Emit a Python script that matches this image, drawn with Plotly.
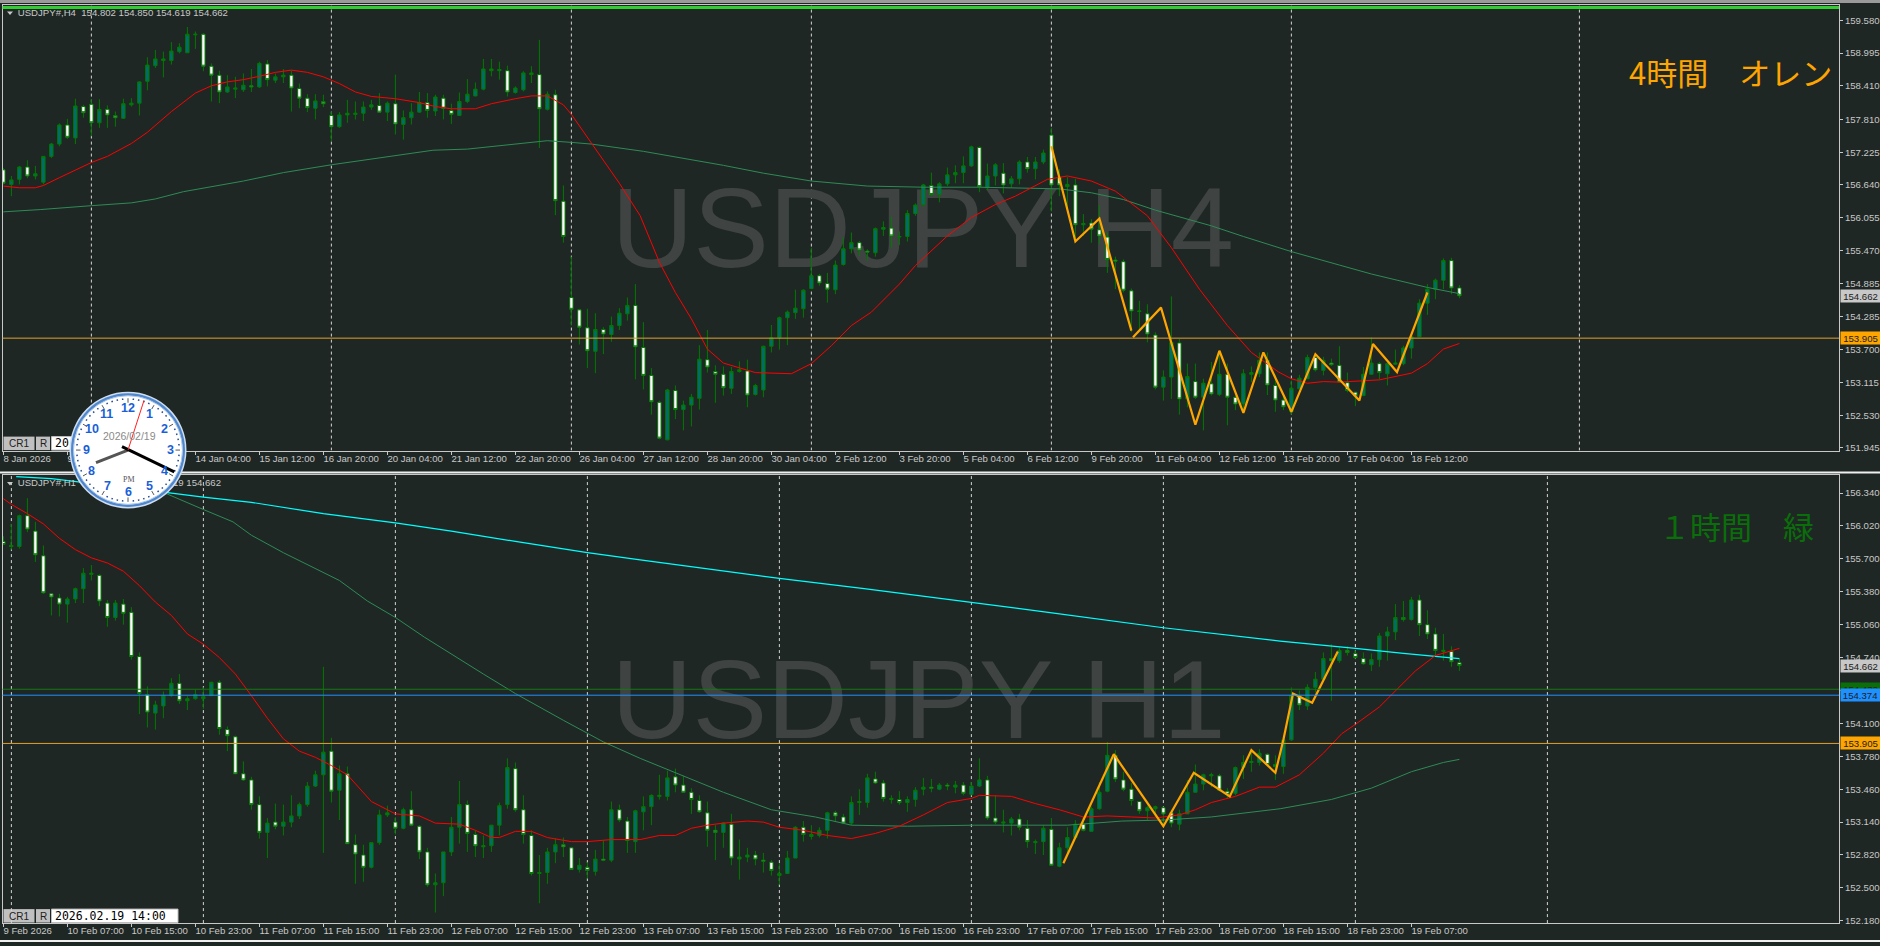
import math
import plotly.graph_objects as go

W, H = 1880, 946
BG = "#1f2724"
TXT = "#c8c8c8"
GRID = "#d4d4d4"
WICK = "#007a00"
TEAL = "#006e6e"
ORANGE = "#ffa500"
CJK = "Noto Sans CJK JP"
LAT = "Liberation Sans"

# ---------- H4 pane data ----------
h4_open = [
156.91,156.65,156.74,156.96,156.80,156.69,157.15,157.37,157.71,157.48,
158.04,158.08,157.75,157.99,157.88,157.83,158.07,158.10,158.49,158.77,
158.86,158.86,159.02,159.00,159.32,159.33,158.76,158.60,158.30,158.35,
158.34,158.41,158.39,158.80,158.51,158.57,158.60,158.36,158.19,158.01,
158.13,157.88,157.68,157.89,157.90,157.92,158.03,158.06,157.94,158.09,
157.72,157.84,157.94,158.11,157.96,158.19,157.97,157.88,158.13,158.23,
158.35,158.68,158.68,158.68,158.29,158.34,158.61,158.61,157.99,158.25,
156.35,154.63,154.41,154.09,153.67,154.06,153.97,154.13,154.34,154.49,
153.74,153.24,152.76,152.09,152.97,152.63,152.71,152.83,153.52,153.31,
153.26,153.01,153.31,153.32,152.90,152.98,153.76,153.91,154.27,154.36,
154.43,154.79,155.02,154.88,154.77,155.22,155.50,155.61,155.46,155.43,
155.85,155.87,155.71,155.72,156.13,156.29,156.63,156.47,156.66,156.82,
156.86,156.98,157.31,156.59,156.80,156.85,156.66,156.75,157.05,156.93,
157.05,157.53,156.78,156.61,156.64,155.93,155.96,155.84,155.71,155.30,
155.27,154.75,154.38,154.34,153.96,153.03,153.21,153.82,152.82,153.13,
152.85,153.09,152.90,153.26,152.85,152.73,153.26,153.27,153.51,153.06,
152.80,152.59,153.00,153.18,153.56,153.33,153.46,153.42,153.11,152.94,
152.88,153.26,153.45,153.27,153.44,153.45,153.73,153.93,154.53,154.78,
154.94,155.29,154.802]
h4_high = [
156.94,156.80,156.98,157.08,156.98,157.15,157.39,157.74,157.82,158.18,
158.07,158.17,158.17,158.06,157.95,158.18,158.19,158.49,158.92,159.05,
159.02,159.19,159.17,159.46,159.38,159.35,158.81,158.68,158.60,158.57,
158.63,158.71,158.84,158.87,158.63,158.71,158.68,158.45,158.26,158.26,
158.25,157.95,157.94,158.16,158.13,158.13,158.16,158.28,158.13,158.61,
157.97,158.10,158.30,158.28,158.25,158.25,158.09,158.29,158.53,158.47,
158.89,158.89,158.84,158.77,158.40,158.67,158.76,159.23,158.31,158.34,
156.63,155.36,154.43,154.43,154.35,154.10,154.29,154.44,154.63,154.87,
154.19,153.37,152.79,153.00,153.06,152.79,152.91,153.78,154.05,153.42,
153.40,153.39,153.49,153.52,153.09,153.77,154.14,154.29,154.40,154.77,
154.78,155.52,155.05,155.07,155.29,155.70,155.79,155.64,155.49,155.88,
155.99,156.07,155.81,156.19,156.31,156.66,156.86,156.69,156.95,156.99,
157.15,157.34,157.33,157.02,157.03,157.03,156.80,157.08,157.14,157.14,
157.27,157.66,156.92,156.78,156.75,156.12,156.03,156.28,155.79,155.36,
155.31,154.79,154.57,154.51,154.01,153.33,154.65,153.89,153.45,153.45,
153.18,153.48,153.65,153.45,152.88,153.35,153.40,153.65,153.65,153.24,
152.88,153.15,153.25,153.61,153.62,153.57,153.54,153.76,153.29,152.94,
153.39,153.92,153.48,153.46,153.70,153.77,153.93,154.60,154.87,154.97,
155.33,155.34,154.850]
h4_low = [
156.65,156.44,156.65,156.76,156.74,156.65,157.12,157.33,157.46,157.37,
157.84,157.51,157.66,157.66,157.68,157.82,158.04,157.88,158.33,158.73,
158.56,158.79,158.99,159.00,159.07,158.67,158.13,158.10,158.28,158.19,
158.30,158.30,158.37,158.40,158.46,158.46,157.95,158.01,157.94,157.81,
158.03,157.42,157.66,157.75,157.81,157.78,157.98,157.93,157.78,157.54,
157.45,157.72,157.93,157.84,157.87,157.81,157.73,157.87,158.10,158.22,
158.33,158.58,158.52,158.22,158.27,158.31,158.46,157.30,157.97,156.10,
155.61,154.13,153.79,153.37,153.28,153.62,153.84,154.05,154.22,153.17,
152.99,152.54,152.10,152.08,152.46,152.26,152.33,152.63,153.29,152.75,
152.88,152.91,153.29,152.67,152.88,152.85,153.65,153.70,153.78,154.25,
154.27,154.78,154.84,154.54,154.69,155.20,155.42,155.37,155.29,155.36,
155.73,155.52,155.57,155.63,156.09,156.26,156.44,156.33,156.62,156.67,
156.67,156.96,156.51,156.55,156.63,156.49,156.59,156.65,156.86,156.74,
157.01,156.17,156.44,156.20,155.64,155.73,155.61,155.58,155.07,154.78,
154.72,154.01,154.07,153.83,152.99,152.79,152.82,152.54,152.67,152.82,
152.26,152.88,152.87,152.35,152.62,152.59,153.12,153.21,152.89,152.59,
152.62,152.54,153.00,153.18,153.31,153.24,153.41,153.11,152.94,152.69,
152.87,153.25,153.17,153.06,153.43,153.42,153.54,153.92,154.32,154.60,
154.78,154.69,154.619]
h4_close = [
156.67,156.73,156.96,156.80,156.84,157.15,157.37,157.71,157.49,158.05,
157.93,157.75,157.99,157.89,157.84,158.09,158.10,158.48,158.78,158.89,
158.89,159.03,159.10,159.33,159.33,158.76,158.60,158.30,158.39,158.37,
158.42,158.39,158.81,158.52,158.57,158.60,158.37,158.19,158.02,158.14,
158.09,157.68,157.89,157.92,157.92,158.03,158.07,157.94,158.10,157.73,
157.84,157.94,158.11,157.97,158.21,158.01,157.90,158.13,158.26,158.35,
158.71,158.71,158.70,158.30,158.37,158.64,158.64,158.00,158.26,156.36,
155.72,154.42,154.10,153.68,154.06,153.98,154.13,154.35,154.49,153.75,
153.24,152.77,152.12,152.98,152.63,152.71,152.85,153.53,153.39,153.26,
153.02,153.31,153.34,152.89,153.06,153.76,153.91,154.27,154.37,154.44,
154.76,155.02,154.89,154.78,155.21,155.50,155.61,155.48,155.44,155.86,
155.88,155.73,155.72,156.13,156.28,156.64,156.47,156.66,156.82,156.86,
156.98,157.32,156.61,156.80,157.00,156.64,156.75,157.05,156.93,157.05,
157.21,156.64,156.64,156.65,155.93,155.95,155.85,155.73,155.31,155.28,
154.76,154.39,154.39,153.98,153.03,153.21,153.83,152.82,153.22,152.85,
153.10,152.91,153.26,152.85,152.73,153.27,153.29,153.51,153.07,152.80,
152.68,153.01,153.19,153.56,153.34,153.51,153.43,153.12,152.97,152.87,
153.26,153.46,153.29,153.45,153.46,153.73,153.93,154.53,154.78,154.94,
155.29,154.80,154.662]

h4_red_x = [0,2,4,5,7,9,11,13,16,18,21,24,26,28,30,32,34,36,38,40,42,44,46,49,52,54,56,59,61,64,66,68,70,71,73.5,77,79.6,82,84,86,88,90,94,98.5,101,103.5,106,108.5,112,114,118,121,124,126.5,130.5,133,136,139,143,146,149.5,153,156,159.4,161,163,165,167,172,176,178,180,182]
h4_red_y = [156.62,156.59,156.59,156.63,156.77,156.90,157.04,157.15,157.38,157.58,157.95,158.28,158.41,158.48,158.52,158.58,158.65,158.69,158.65,158.57,158.45,158.30,158.22,158.18,158.11,158.04,158.00,158.00,158.09,158.18,158.23,158.23,158.07,157.90,157.39,156.67,156.09,155.26,154.72,154.25,153.71,153.46,153.29,153.27,153.45,153.77,154.13,154.37,154.87,155.20,155.73,156.06,156.29,156.44,156.74,156.80,156.71,156.53,156.09,155.52,154.78,154.13,153.65,153.30,153.18,153.10,153.13,153.12,153.16,153.28,153.45,153.71,153.81]
h4_green_x = [0,4.6,11,16,19,22.5,30,35,41,48,53.7,58,63,68,71,73.5,80,85,90,95,101,108,115,122,127,132,136,140,144,151,155,161,167,171,178,182]
h4_green_y = [156.16,156.20,156.27,156.32,156.39,156.52,156.71,156.86,157.00,157.14,157.26,157.28,157.35,157.43,157.40,157.37,157.24,157.12,156.99,156.85,156.71,156.62,156.60,156.60,156.59,156.57,156.50,156.38,156.19,155.91,155.72,155.45,155.21,155.05,154.81,154.70]
h4_zig_x = [131,134,137,141,None,141.2,144.7,149,152,155,157.5,161,164,169.5,171.2,174.2,178]
h4_zig_y = [157.33,155.63,156.04,154.04,None,153.92,154.45,152.36,153.68,152.57,153.65,152.59,153.62,152.79,153.80,153.30,154.72]
h4_ticks = [159.58,158.995,158.41,157.81,157.225,156.64,156.055,155.47,154.885,154.285,153.70,153.115,152.53,151.945]
h4_tick_text = ["159.580","158.995","158.410","157.810","157.225","156.640","156.055","155.470","154.885","154.285","153.700","153.115","152.530","151.945"]
# labels at every 8th bar, as far as they show beside the clock
h4_dates = ["8 Jan 2026","9","","14 Jan 04:00","15 Jan 12:00","16 Jan 20:00","20 Jan 04:00","21 Jan 12:00","22 Jan 20:00","26 Jan 04:00","27 Jan 12:00","28 Jan 20:00","30 Jan 04:00","2 Feb 12:00","3 Feb 20:00","5 Feb 04:00","6 Feb 12:00","9 Feb 20:00","11 Feb 04:00","12 Feb 12:00","13 Feb 20:00","17 Feb 04:00","18 Feb 12:00"]
h4_vlines = [11,41,71,101,131,161,197]

# ---------- H1 pane data ----------
h1_open = [
155.87,155.83,155.82,156.12,155.97,155.73,155.36,155.32,155.26,155.31,
155.41,155.55,155.54,155.27,155.13,155.26,155.18,154.75,154.38,154.20,
154.27,154.37,154.49,154.32,154.34,154.34,154.37,154.50,154.04,153.97,
153.61,153.55,153.31,153.04,153.14,153.10,153.14,153.20,153.31,153.49,
153.60,153.83,153.45,153.61,152.92,152.82,152.70,152.94,153.21,153.14,
153.08,153.26,153.10,152.85,152.53,152.55,152.85,153.09,153.31,153.02,
152.90,152.91,153.11,153.31,153.66,153.26,153.01,152.64,152.65,152.85,
152.92,152.89,152.68,152.70,152.66,152.78,152.77,153.26,153.15,152.95,
153.24,153.29,153.39,153.39,153.58,153.50,153.43,153.35,153.23,153.06,
153.04,153.12,152.78,152.80,152.82,152.77,152.75,152.62,152.64,152.79,
153.09,153.00,153.01,153.06,153.23,153.19,153.13,153.33,153.33,153.56,
153.52,153.36,153.36,153.33,153.36,153.46,153.48,153.46,153.50,153.48,
153.50,153.41,153.49,153.55,153.18,153.13,153.13,153.17,153.08,152.94,
152.95,153.07,152.71,152.89,152.99,153.12,153.05,153.27,153.44,153.79,
153.55,153.46,153.34,153.25,153.27,153.28,153.23,153.12,153.22,153.43,
153.51,153.59,153.59,153.44,153.42,153.67,153.72,153.72,153.80,153.70,
153.68,153.94,154.37,154.27,154.45,154.53,154.73,154.71,154.81,154.78,
154.73,154.67,154.72,154.95,154.99,155.13,155.11,155.30,155.06,154.97,
154.80,154.80,154.69]
h1_high = [
155.92,156.04,156.13,156.29,156.06,155.83,155.36,155.36,155.33,155.42,
155.61,155.64,155.55,155.30,155.30,155.31,155.23,154.79,154.46,154.32,
154.41,154.54,154.58,154.37,154.43,154.45,154.50,154.52,154.07,153.98,
153.73,153.58,153.39,153.18,153.32,153.31,153.40,153.33,153.53,153.64,
154.65,153.96,153.69,153.68,153.02,152.92,152.94,153.26,153.30,153.19,
153.28,153.44,153.11,152.89,152.64,152.85,153.19,153.54,153.35,153.06,
153.01,153.11,153.33,153.76,153.72,153.40,153.06,152.82,152.89,152.98,
152.99,152.90,152.79,152.75,152.87,152.96,153.34,153.31,153.19,153.26,
153.39,153.41,153.60,153.64,153.66,153.59,153.47,153.40,153.34,153.11,
153.14,153.22,152.97,152.89,152.86,152.84,152.77,152.74,152.86,153.10,
153.15,153.11,153.09,153.24,153.25,153.22,153.39,153.46,153.61,153.63,
153.55,153.40,153.44,153.39,153.48,153.57,153.56,153.52,153.52,153.54,
153.53,153.53,153.76,153.59,153.40,153.26,153.19,153.22,153.16,152.97,
153.11,153.18,152.94,153.09,153.16,153.19,153.29,153.53,153.92,153.84,
153.63,153.52,153.34,153.30,153.30,153.29,153.26,153.26,153.55,153.70,
153.61,153.62,153.61,153.47,153.68,153.79,153.84,153.85,153.81,153.79,
153.94,154.45,154.42,154.48,154.60,154.79,154.87,154.84,154.85,154.81,
154.79,154.78,154.98,155.04,155.26,155.29,155.33,155.35,155.20,155.03,
154.97,154.85,154.73]
h1_low = [
155.84,155.79,155.80,155.96,155.67,155.36,155.15,155.14,155.08,155.27,
155.27,155.49,155.24,155.04,155.10,155.06,154.72,154.19,154.06,154.04,
154.15,154.36,154.29,154.23,154.33,154.24,154.37,153.99,153.83,153.61,
153.54,153.26,152.98,152.79,153.07,153.01,153.09,153.17,153.29,153.48,
152.84,153.33,153.16,152.93,152.54,152.56,152.69,152.92,153.19,153.02,
153.07,153.10,152.78,152.51,152.26,152.42,152.81,152.93,152.85,152.80,
152.79,152.85,153.01,153.27,153.24,152.93,152.62,152.35,152.54,152.74,
152.80,152.68,152.65,152.59,152.62,152.76,152.75,153.14,152.84,152.84,
153.06,153.11,153.36,153.35,153.43,153.43,153.22,153.23,152.90,152.77,
152.89,152.72,152.58,152.75,152.72,152.65,152.62,152.53,152.64,152.79,
152.95,152.97,152.99,152.98,153.14,153.12,153.11,153.21,153.28,153.51,
153.34,153.32,153.31,153.24,153.29,153.40,153.43,153.45,153.45,153.42,
153.40,153.40,153.48,153.16,153.12,153.04,153.01,153.06,152.89,152.83,
152.82,152.72,152.70,152.84,152.98,153.05,153.05,153.26,153.43,153.53,
153.44,153.30,153.22,153.16,153.19,153.11,153.09,153.06,153.22,153.43,
153.45,153.48,153.44,153.37,153.40,153.56,153.63,153.69,153.70,153.55,
153.61,153.93,154.23,154.23,154.40,154.52,154.32,154.69,154.76,154.73,
154.67,154.61,154.65,154.71,154.91,155.09,155.10,154.95,154.92,154.76,
154.71,154.65,154.61]
h1_close = [
155.84,155.82,156.12,155.99,155.74,155.37,155.33,155.26,155.31,155.41,
155.56,155.56,155.29,155.13,155.27,155.17,154.75,154.39,154.21,154.28,
154.37,154.49,154.32,154.34,154.38,154.36,154.50,154.05,153.98,153.61,
153.55,153.31,153.04,153.13,153.10,153.14,153.20,153.31,153.49,153.60,
153.82,153.44,153.61,152.93,152.83,152.70,152.94,153.21,153.23,153.08,
153.26,153.11,152.85,152.53,152.55,152.85,153.09,153.31,153.03,152.91,
152.91,153.11,153.30,153.67,153.26,153.02,152.64,152.65,152.85,152.92,
152.90,152.68,152.72,152.67,152.78,152.77,153.26,153.16,152.96,153.25,
153.29,153.40,153.40,153.57,153.50,153.43,153.36,153.24,153.06,153.04,
153.13,152.79,152.80,152.82,152.78,152.76,152.67,152.64,152.79,153.09,
153.02,153.02,153.06,153.23,153.20,153.13,153.33,153.34,153.57,153.52,
153.37,153.37,153.33,153.36,153.45,153.48,153.47,153.50,153.49,153.50,
153.42,153.49,153.55,153.18,153.14,153.14,153.17,153.09,152.95,152.95,
153.08,152.72,152.89,152.99,153.12,153.06,153.27,153.43,153.79,153.56,
153.46,153.35,153.25,153.28,153.29,153.22,153.13,153.22,153.43,153.51,
153.60,153.60,153.45,153.41,153.67,153.72,153.73,153.81,153.70,153.68,
153.94,154.37,154.28,154.45,154.53,154.73,154.71,154.81,154.79,154.74,
154.68,154.72,154.95,154.99,155.13,155.11,155.30,155.06,154.97,154.81,
154.81,154.70,154.662]

h1_red_x = [0,1,3,5,7,9,11,13,15,17,19,21,23,25,27,29,31,33,35,37,39,41,43,46,49,52,54,57,59,61,62,64,66,68,71,73,76,79.6,82,84,86,88,90,93,95,97,100,103,106,109,112,115,118,121,122,126,129,132,135,138,141,144,147,149,151,154,157,159,162,165,167.3,169,172,174,176.5,179,182]
h1_red_y = [156.285,156.23,156.14,156.04,155.90,155.79,155.71,155.66,155.58,155.44,155.28,155.15,154.97,154.87,154.74,154.58,154.37,154.15,153.95,153.83,153.77,153.69,153.60,153.34,153.22,153.20,153.13,153.12,153.06,152.99,152.99,153.05,153.05,152.99,152.95,152.95,152.97,152.97,153.01,153.01,153.08,153.11,153.13,153.15,153.14,153.09,153.06,153.01,152.98,153.03,153.10,153.21,153.33,153.37,153.40,153.39,153.32,153.26,153.19,153.20,153.19,153.18,153.21,153.26,153.33,153.39,153.48,153.48,153.60,153.81,154.00,154.09,154.26,154.42,154.61,154.76,154.83]
h1_green_x = [15,20.5,25,28.7,31,35,42,45.5,49,52.6,60,64,70,75,79.6,85,90,96,101.5,106,113,121.4,128,133,139.8,145,151,159.6,166,171,176,180,182]
h1_green_y = [156.42,156.33,156.18,156.06,155.93,155.76,155.49,155.29,155.13,154.94,154.58,154.39,154.13,153.92,153.76,153.59,153.43,153.26,153.19,153.11,153.10,153.11,153.11,153.11,153.15,153.16,153.19,153.27,153.36,153.47,153.63,153.72,153.75]
h1_cyan_x = [1.6,6,21,25,31,40,49,56,64,73,79.6,97,107.6,121,130.6,145,159.6,169,175,182]
h1_cyan_y = [156.50,156.48,156.34,156.30,156.25,156.14,156.05,155.97,155.87,155.76,155.69,155.51,155.41,155.28,155.18,155.03,154.90,154.83,154.78,154.73]
h1_zig_x = [132.5,138.8,145,148.8,153.3,156,159,160,161.2,163.6,166.8]
h1_zig_y = [152.74,153.80,153.10,153.62,153.39,153.84,153.62,153.94,154.39,154.30,154.80]
h1_ticks = [156.34,156.02,155.70,155.38,155.06,154.74,154.42,154.10,153.78,153.46,153.14,152.82,152.50,152.18]
h1_tick_text = ["156.340","156.020","155.700","155.380","155.060","154.740","154.420","154.100","153.780","153.460","153.140","152.820","152.500","152.180"]
h1_dates = ["9 Feb 2026","10 Feb 07:00","10 Feb 15:00","10 Feb 23:00","11 Feb 07:00","11 Feb 15:00","11 Feb 23:00","12 Feb 07:00","12 Feb 15:00","12 Feb 23:00","13 Feb 07:00","13 Feb 15:00","13 Feb 23:00","16 Feb 07:00","16 Feb 15:00","16 Feb 23:00","17 Feb 07:00","17 Feb 15:00","17 Feb 23:00","18 Feb 07:00","18 Feb 15:00","18 Feb 23:00","19 Feb 07:00"]
h1_vlines = [1,25,49,73,97,121,145,169,193]

level_orange = 153.905
level_green = 154.432
level_blue = 154.374
last_price = 154.662


def px(x):
    return x / W


def py(y):
    return 1 - y / H


XR = [-0.11, 229.45]
Y1R = [151.898, 159.844]
Y2R = [152.158, 156.511]
DOMX = [px(2.5), px(1839)]
DOM1 = [py(452), py(5.5)]
DOM2 = [py(926), py(477)]
# whole-page axes with the same per-pixel scales, so that labels below a pane stay on scale
XF = [(0 - 3.4) / 8, (W - 3.4) / 8]
YF1 = [159.942 - 0.017796 * H, 159.942]
YF2 = [156.618 - 0.009696 * (H - 466), 156.618 + 0.009696 * 466]

fig = go.Figure()


def text_trace(xa, ya, xs, ys, texts, size=10, color=TXT, family=LAT, pos="middle right"):
    fig.add_trace(go.Scatter(x=xs, y=ys, text=texts, mode="text", xaxis=xa, yaxis=ya,
                             textposition=pos, cliponaxis=False, hoverinfo="skip", showlegend=False,
                             textfont=dict(size=size, color=color, family=family)))


# watermarks live on the base axes, under the overlaid candles
text_trace("x", "y", [114.9], [155.68], ["USDJPY H4"], size=113.5, color="#3f4442", pos="middle center")
text_trace("x2", "y2", [114.4], [154.23], ["USDJPY H1"], size=112, color="#3f4442", pos="middle center")


def pane(xa, ya, o, h, l, c):
    fig.add_trace(go.Candlestick(x=list(range(len(o))), open=o, high=h, low=l, close=c, xaxis=xa, yaxis=ya,
                                 whiskerwidth=0, showlegend=False, hoverinfo="skip",
                                 increasing=dict(line=dict(color=WICK, width=1), fillcolor=TEAL),
                                 decreasing=dict(line=dict(color=WICK, width=1), fillcolor="#ffffff")))


def line(xa, ya, xs, ys, color, width):
    fig.add_trace(go.Scatter(x=xs, y=ys, mode="lines", xaxis=xa, yaxis=ya, showlegend=False, hoverinfo="skip",
                             line=dict(color=color, width=width)))


pane("x3", "y3", h4_open, h4_high, h4_low, h4_close)
line("x3", "y3", h4_green_x, h4_green_y, "#2e8b57", 1)
line("x3", "y3", h4_red_x, h4_red_y, "#ff0000", 1)
line("x3", "y3", h4_zig_x, h4_zig_y, ORANGE, 2.2)

pane("x4", "y4", h1_open, h1_high, h1_low, h1_close)
line("x4", "y4", h1_green_x, h1_green_y, "#2e8b57", 1)
line("x4", "y4", h1_cyan_x, h1_cyan_y, "#00ffff", 1.2)
line("x4", "y4", h1_red_x, h1_red_y, "#ff0000", 1)
line("x4", "y4", h1_zig_x, h1_zig_y, ORANGE, 2.2)

# axis date labels and headers as text traces so that the clock can cover them
tick_idx = [8 * k for k in range(len(h4_dates))]
text_trace("x5", "y5", tick_idx, [151.73] * len(tick_idx), h4_dates, size=9.6)
text_trace("x5", "y6", tick_idx, [152.07] * len(tick_idx), h1_dates, size=9.6)
text_trace("x5", "y5", [1.8], [159.70], ["USDJPY#,H4  154.802 154.850 154.619 154.662"], size=9.6)
text_trace("x5", "y6", [1.8, 21.2], [156.43, 156.43], ["USDJPY#,H1", "19 154.662"], size=9.6)
text_trace("x5", "y5", [6.45], [152.01], ["20"], size=11.5, color="#000000", family="DejaVu Sans Mono")
text_trace("x5", "y6", [6.45], [152.22], ["2026.02.19 14:00"], size=11.5, color="#000000", family="DejaVu Sans Mono")

axis_common = dict(showgrid=False, zeroline=False, showline=True, linecolor=TXT, linewidth=1, mirror=True,
                   ticks="outside", ticklen=3, tickcolor=TXT, tickwidth=1)
fig.update_layout(
    width=W, height=H, autosize=False, margin=dict(l=0, r=0, t=0, b=0),
    paper_bgcolor=BG, plot_bgcolor="rgba(0,0,0,0)", showlegend=False, boxgap=0.4,
    xaxis=dict(domain=DOMX, range=XR, anchor="y", tickvals=tick_idx, showticklabels=False, **axis_common),
    xaxis2=dict(domain=DOMX, range=XR, anchor="y2", tickvals=tick_idx, showticklabels=False, **axis_common),
    yaxis=dict(domain=DOM1, range=Y1R, anchor="x", side="right", tickvals=h4_ticks, ticktext=h4_tick_text,
               tickfont=dict(size=9.6, color=TXT, family=LAT), **axis_common),
    yaxis2=dict(domain=DOM2, range=Y2R, anchor="x2", side="right", tickvals=h1_ticks, ticktext=h1_tick_text,
                tickfont=dict(size=9.6, color=TXT, family=LAT), **axis_common),
    xaxis3=dict(domain=DOMX, range=XR, overlaying="x", anchor="y3", visible=False, rangeslider=dict(visible=False)),
    yaxis3=dict(domain=DOM1, range=Y1R, overlaying="y", anchor="x3", visible=False),
    xaxis4=dict(domain=DOMX, range=XR, overlaying="x2", anchor="y4", visible=False, rangeslider=dict(visible=False)),
    yaxis4=dict(domain=DOM2, range=Y2R, overlaying="y2", anchor="x4", visible=False),
    xaxis5=dict(domain=[0, 1], range=XF, anchor="y5", visible=False),
    yaxis5=dict(domain=[0, 1], range=YF1, anchor="x5", visible=False),
    yaxis6=dict(domain=[0, 1], range=YF2, anchor="x5", visible=False),
)

shapes = []
annots = []


def rect(x0, y0, x1, y1, fill, layer="above", lc=None):
    shapes.append(dict(type="rect", xref="paper", yref="paper", x0=px(x0), x1=px(x1), y0=py(y0), y1=py(y1),
                       fillcolor=fill, line=dict(width=1 if lc else 0, color=lc or fill), layer=layer))


def seg(x0, y0, x1, y1, color, width, layer="above"):
    shapes.append(dict(type="line", xref="paper", yref="paper", x0=px(x0), x1=px(x1), y0=py(y0), y1=py(y1),
                       line=dict(color=color, width=width), layer=layer))


def label(x, y, text, size=10, color=TXT, family=LAT, **kw):
    annots.append(dict(xref="paper", yref="paper", x=px(x), y=py(y), text=text, showarrow=False,
                       xanchor="center", yanchor="middle",
                       font=dict(size=size, color=color, family=family), **kw))


def vl(xr, yr, v, rng):
    shapes.append(dict(type="line", xref=xr, yref=yr, x0=v, x1=v, y0=rng[0], y1=rng[1], layer="below",
                       line=dict(color=GRID, width=1, dash="3px,3px")))


def hl(yr, v, color):
    shapes.append(dict(type="line", xref="paper", yref=yr, x0=DOMX[0], x1=DOMX[1], y0=v, y1=v, layer="above",
                       line=dict(color=color, width=1)))


for v in h4_vlines:
    vl("x", "y", v, Y1R)
for v in h1_vlines:
    vl("x2", "y2", v, Y2R)
hl("y", level_orange, "#e0a030")
hl("y2", level_green, "#157a15")
hl("y2", level_blue, "#1e90ff")
hl("y2", level_orange, "#e0a030")
# window chrome
rect(0, 0, W, 3, "#9a9a9a")
rect(2.5, 6, 1839, 9, "#32cd32")
rect(0, 473, W, 475, "#f0f0f0")
rect(0, 943, W, 945, "#f0f0f0")
# small triangle markers
for ty in (11.5, 483.5):
    shapes.append(dict(type="path", xref="paper", yref="paper", layer="above", fillcolor=TXT, line=dict(width=0),
                       path=f"M {px(7)} {py(ty)} L {px(13)} {py(ty)} L {px(10)} {py(ty + 3.5)} Z"))
# buttons
for top in (438, 912):
    rect(3.5, top, 34.5, top + 13.5, "#c0c0c0", "below")
    rect(36, top, 50, top + 13.5, "#c0c0c0", "below")
    rect(51.5, top, 178, top + 13.5, "#ffffff", "below", "#c0c0c0")
    label(19, top + 7, "CR1", size=10, color="#202020")
    label(43, top + 7, "R", size=10, color="#202020")
# big captions
label(1730, 72, "4時間　オレン", size=31, color=ORANGE, family=CJK)
label(1736, 527, "１時間　緑", size=31, color="#0a6e0a", family=CJK)
# right-hand price tags
def tag(yr, v, text, bg, fg="#202020"):
    annots.append(dict(xref="paper", yref=yr, x=px(1840), y=v, xanchor="left", yanchor="middle", text=text,
                       showarrow=False, width=39, height=12, bgcolor=bg, align="center", borderpad=0,
                       font=dict(size=9.6, color=fg, family=LAT)))


tag("y", last_price, "154.662", "#c8c8c8")
tag("y", level_orange, "153.905", ORANGE)
tag("y2", last_price, "154.662", "#c8c8c8")
tag("y2", level_green, "154.432", "#0a6e0a")
tag("y2", level_blue, "154.374", "#1e90ff")
tag("y2", level_orange, "153.905", ORANGE)

# desktop clock gadget overlapping both panes
CX, CY, R = 128, 451.5, 58
def circle(r, fill, lc=None, lw=0):
    shapes.append(dict(type="circle", xref="paper", yref="paper", layer="above", fillcolor=fill,
                       x0=px(CX - r), x1=px(CX + r), y0=py(CY - r), y1=py(CY + r),
                       line=dict(width=lw, color=lc or fill)))


circle(58.5, "#cfdff2")
circle(57, "#4f86cc")
circle(54.5, "#ffffff", "#a9c6e8", 1)
for m in range(60):
    a = math.radians(m * 6)
    r0, r1 = (47.5, 52) if m % 5 == 0 else (50.5, 52)
    seg(CX + r0 * math.sin(a), CY - r0 * math.cos(a), CX + r1 * math.sin(a), CY - r1 * math.cos(a),
        "#555555" if m % 5 == 0 else "#24478f", 1 if m % 5 == 0 else 1.5)
for n in range(1, 13):
    a = math.radians(n * 30)
    label(CX + 42 * math.sin(a), CY - 42 * math.cos(a), f"<b>{n}</b>", size=12.5, color="#1a5fd8")
label(129.8, 437.7, "2026/02/19", size=10.5, color="#8a8a8a")
label(128.6, 481, "PM", size=8, color="#555555", family="Liberation Serif")
seg(CX, CY, 96, 464, "#555555", 3)
seg(122, 448, 174.3, 473.3, "#000000", 3)
seg(CX, CY, 144, 401.7, "#ff2020", 1)

fig.update_layout(shapes=shapes, annotations=annots)

fig.write_html("out.html", config={"displayModeBar": False},
               post_script="document.body.style.margin='0';document.body.style.overflow='hidden';")
